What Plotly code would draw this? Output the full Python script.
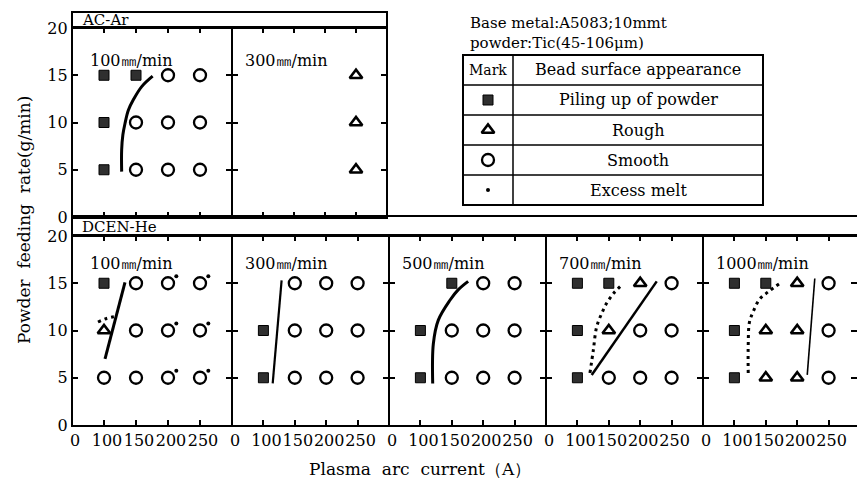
import plotly.graph_objects as go

W, H = 857, 484

# ---------------- data ----------------
currents = [100, 150, 200, 250]          # plasma arc current (A)
feeds = [15, 10, 5]                       # powder feeding rate (g/min), rows top->bottom

# P = piling up of powder, R = rough, S = smooth, E suffix = excess melt, "" = no test
ac_100 = [["P", "P", "S", "S"],
          ["P", "S", "S", "S"],
          ["P", "S", "S", "S"]]
ac_300 = [["", "", "", "R"],
          ["", "", "", "R"],
          ["", "", "", "R"]]
dc_100 = [["P", "S", "SE", "SE"],
          ["R", "S", "SE", "SE"],
          ["S", "S", "SE", "SE"]]
dc_300 = [["", "S", "S", "S"],
          ["P", "S", "S", "S"],
          ["P", "S", "S", "S"]]
dc_500 = [["", "P", "S", "S"],
          ["P", "S", "S", "S"],
          ["P", "S", "S", "S"]]
dc_700 = [["P", "P", "R", "S"],
          ["P", "R", "S", "S"],
          ["P", "S", "S", "S"]]
dc_1000 = [["P", "P", "R", "S"],
           ["P", "R", "R", "S"],
           ["P", "R", "R", "S"]]

top_speeds = ["100㎜/min", "300㎜/min"]
bottom_speeds = ["100㎜/min", "300㎜/min", "500㎜/min", "700㎜/min", "1000㎜/min"]

# boundary curves (current, feed)
ac100_solid_x = [127.6, 127.6, 129.5, 132.8, 138.0, 145.8, 158.9, 176.0]
ac100_solid_y = [4.8, 7.1, 8.7, 9.9, 11.3, 12.4, 13.8, 14.9]
dc100_solid_x = [101.6, 132.8]
dc100_solid_y = [7.0, 15.1]
dc100_dot_x = [90.6, 105.0, 120.3]
dc100_dot_y = [10.9, 11.3, 11.5]
dc300_solid_x = [114.8, 129.0]
dc300_solid_y = [4.4, 15.3]
dc500_solid_x = [119.6, 120.6, 128.5, 147.0, 160.0, 176.0]
dc500_solid_y = [4.4, 8.6, 11.1, 13.2, 14.3, 15.2]
dc700_dot_x = [120.0, 125.3, 130.7, 138.7, 146.7, 157.2, 170.5]
dc700_dot_y = [5.5, 7.9, 10.4, 11.8, 12.9, 13.9, 14.8]
dc700_solid_x = [122.8, 226.3]
dc700_solid_y = [5.3, 15.2]
dc1000_dot_x = [122.0, 122.0, 124.0, 130.0, 140.0, 154.0, 172.6]
dc1000_dot_y = [5.5, 8.5, 10.9, 12.0, 13.3, 14.1, 15.0]
dc1000_solid_x = [216.0, 228.0]
dc1000_solid_y = [5.3, 15.5]

x_ticks = [100, 150, 200, 250]
x_ticklabels = ["100", "150", "200", "250"]
y_ticks = [0, 5, 10, 15, 20]
y_ticklabels = ["0", "5", "10", "15", "20"]

# ---------------- layout helpers ----------------
FONT = "DejaVu Serif"


def fx(px):
    return px / W


def fy(py):
    return 1 - py / H


top_edges = [72, 232, 387]
top_rows = (28, 217)
bot_edges = [72, 232, 389, 546, 703, 860]
bot_rows = (236, 425)

X_RANGE = [50, 300]
Y_RANGE = [0, 20]

panels = []
curves_top = [
    [(ac100_solid_x, ac100_solid_y, "solid", 3)],
    [],
]
curves_bot = [
    [(dc100_solid_x, dc100_solid_y, "solid", 3), (dc100_dot_x, dc100_dot_y, "dot", 3)],
    [(dc300_solid_x, dc300_solid_y, "solid", 2.2)],
    [(dc500_solid_x, dc500_solid_y, "solid", 3)],
    [(dc700_dot_x, dc700_dot_y, "dot", 3), (dc700_solid_x, dc700_solid_y, "solid", 2.5)],
    [(dc1000_dot_x, dc1000_dot_y, "dot", 3), (dc1000_solid_x, dc1000_solid_y, "solid", 1.6)],
]
for i, (g, t) in enumerate(zip([ac_100, ac_300], top_speeds)):
    panels.append((g, t, (top_edges[i], top_edges[i + 1]), top_rows, False, curves_top[i], i == 0))
for i, (g, t) in enumerate(zip([dc_100, dc_300, dc_500, dc_700, dc_1000], bottom_speeds)):
    panels.append((g, t, (bot_edges[i], bot_edges[i + 1]), bot_rows, True, curves_bot[i], i == 0))

fig = go.Figure()
layout = dict(
    width=W, height=H, margin=dict(l=0, r=0, t=0, b=0, autoexpand=False),
    paper_bgcolor="white", plot_bgcolor="rgba(0,0,0,0)",
    showlegend=False, font=dict(family=FONT, size=15, color="black"),
)
annotations = []
shapes = []

EX_DX, EX_DY = 13, 0.75

for k, (grid, title, (l, r), (rt, rb), is_bottom, curves, first) in enumerate(panels, start=1):
    xs = "" if k == 1 else str(k)
    d1 = fx(r)
    rng = list(X_RANGE)
    if d1 > 1:
        rng[1] = X_RANGE[0] + (X_RANGE[1] - X_RANGE[0]) * (W - l) / (r - l)
        d1 = 1.0
    xa = dict(
        domain=[fx(l), d1], range=rng, anchor="y" + xs,
        showline=True, linecolor="black", linewidth=2, mirror="ticks",
        ticks="inside", ticklen=5, tickwidth=1.5, tickcolor="black",
        showgrid=False, zeroline=False, fixedrange=True, automargin=False,
        tickangle=0, tickfont=dict(family=FONT, size=16, color="black"),
    )
    if is_bottom:
        xa["tickvals"] = [50] + x_ticks
        xa["ticktext"] = ["0"] + x_ticklabels
        xa["ticklabelshift"] = 3
    else:
        xa["tickvals"] = x_ticks
        xa["showticklabels"] = False
    ya = dict(
        domain=[fy(rb), fy(rt)], range=Y_RANGE, anchor="x" + xs,
        showline=True, linecolor="black", linewidth=1.2, mirror="ticks",
        ticks="inside", ticklen=6, tickwidth=1.5, tickcolor="black",
        showgrid=False, zeroline=False, fixedrange=True, automargin=False,
        tickangle=0, tickfont=dict(family=FONT, size=16, color="black"),
    )
    if first:
        ya["tickvals"] = y_ticks
        ya["ticktext"] = y_ticklabels
    else:
        ya["tickvals"] = [5, 10, 15]
        ya["showticklabels"] = False
    layout["xaxis" + xs] = xa
    layout["yaxis" + xs] = ya

    groups = {"P": ([], []), "R": ([], []), "S": ([], []), "E": ([], [])}
    for ri, row in enumerate(grid):
        for ci, code in enumerate(row):
            if not code:
                continue
            groups[code[0]][0].append(currents[ci])
            groups[code[0]][1].append(feeds[ri])
            if "E" in code:
                groups["E"][0].append(currents[ci] + EX_DX)
                groups["E"][1].append(feeds[ri] + EX_DY)
    for (cx, cy, dash, lw) in curves:
        fig.add_trace(go.Scatter(
            x=cx, y=cy, mode="lines", xaxis="x" + xs, yaxis="y" + xs,
            line=dict(color="black", width=lw, shape="spline",
                      dash="3px,4px" if dash == "dot" else "solid"),
            hoverinfo="skip"))
    styles = {
        "P": dict(symbol="square", size=10, color="#2f2f2f", line=dict(color="black", width=1)),
        "R": dict(symbol="triangle-up-open", size=11, color="black", line=dict(width=2.6)),
        "S": dict(symbol="circle-open", size=12, color="black", line=dict(width=2.3)),
        "E": dict(symbol="circle", size=4, color="black", line=dict(width=0)),
    }
    for code, (px_, py_) in groups.items():
        if px_:
            fig.add_trace(go.Scatter(x=px_, y=py_, mode="markers", xaxis="x" + xs,
                                     yaxis="y" + xs, marker=styles[code], hoverinfo="skip"))
    annotations.append(dict(
        x=fx(l + (16 if k in (1, 3) else 11)), y=fy(60 if not is_bottom else 263),
        xref="paper", yref="paper", xanchor="left", yanchor="middle",
        text=title, showarrow=False, font=dict(family=FONT, size=16, color="black")))


def note(px, py, text, size=16, xanchor="center", angle=0):
    annotations.append(dict(x=fx(px), y=fy(py), xref="paper", yref="paper",
                            xanchor=xanchor, yanchor="middle", text=text,
                            showarrow=False, textangle=angle,
                            font=dict(family=FONT, size=size, color="black")))


def vline(px, py0, py1, w=2):
    shapes.append(dict(type="line", xref="paper", yref="paper", x0=fx(px), x1=fx(px),
                       y0=fy(py0), y1=fy(py1), line=dict(color="black", width=w)))


# outer left / right frame edges (heavier than the shared dividers)
vline(72, top_rows[0], top_rows[1])
vline(387, top_rows[0], top_rows[1])
vline(72, bot_rows[0], bot_rows[1])

# header bars
shapes.append(dict(type="rect", xref="paper", yref="paper",
                   x0=fx(72), x1=fx(870), y0=fy(236), y1=fy(216),
                   line=dict(color="black", width=2), fillcolor="rgba(0,0,0,0)"))
shapes.append(dict(type="rect", xref="paper", yref="paper",
                   x0=fx(72), x1=fx(387), y0=fy(28), y1=fy(12),
                   line=dict(color="black", width=2), fillcolor="rgba(0,0,0,0)"))
note(80, 20, "AC-Ar", 15, "left")
note(80, 227, "DCEN-He", 15, "left")
note(468, 23, "Base metal:A5083;10mmt", 15, "left")
note(468, 43, "powder:Tic(45-106μm)", 15, "left")

# legend table
T_L, T_R, T_M = 463, 763, 513
T_ROWS = [55, 85, 115, 145, 175, 205]
shapes.append(dict(type="rect", xref="paper", yref="paper", x0=fx(T_L), x1=fx(T_R),
                   y0=fy(T_ROWS[-1]), y1=fy(T_ROWS[0]), line=dict(color="black", width=2)))
for yy in T_ROWS[1:-1]:
    shapes.append(dict(type="line", xref="paper", yref="paper", x0=fx(T_L), x1=fx(T_R),
                       y0=fy(yy), y1=fy(yy), line=dict(color="black", width=1.5)))
vline(T_M, T_ROWS[-1], T_ROWS[0], 1.5)
legend_labels = ["Piling up of powder", "Rough", "Smooth", "Excess melt"]
legend_codes = ["P", "R", "S", "E"]
note((T_L + T_M) / 2, 70, "Mark", 14)
note((T_M + T_R) / 2, 70, "Bead surface appearance", 16)
for i, lab in enumerate(legend_labels):
    note((T_M + T_R) / 2, (T_ROWS[i + 1] + T_ROWS[i + 2]) / 2, lab, 16)

# full-figure pixel axis for the legend symbols
layout["xaxis8"] = dict(domain=[0, 1], range=[0, W], visible=False, fixedrange=True,
                        anchor="y8", automargin=False)
layout["yaxis8"] = dict(domain=[0, 1], range=[H, 0], visible=False, fixedrange=True,
                        anchor="x8", automargin=False)
leg_styles = {
    "P": dict(symbol="square", size=10, color="#2f2f2f", line=dict(color="black", width=1)),
    "R": dict(symbol="triangle-up-open", size=11, color="black", line=dict(width=2.6)),
    "S": dict(symbol="circle-open", size=12, color="black", line=dict(width=2.3)),
    "E": dict(symbol="circle", size=4, color="black", line=dict(width=0)),
}
for i, code in enumerate(legend_codes):
    cy = (T_ROWS[i + 1] + T_ROWS[i + 2]) / 2
    fig.add_trace(go.Scatter(x=[(T_L + T_M) / 2], y=[cy], mode="markers", xaxis="x8",
                             yaxis="y8", marker=leg_styles[code], hoverinfo="skip"))

note(420, 469, "Plasma  arc  current（A）", 17)
note(24, 220, "Powder  feeding  rate(g/min)", 17, "center", -90)

layout["annotations"] = annotations
layout["shapes"] = shapes
fig.update_layout(**layout)
fig.write_html("out.html", config={"displayModeBar": False},
               post_script="document.body.style.margin='0';document.body.style.overflow='hidden';")
